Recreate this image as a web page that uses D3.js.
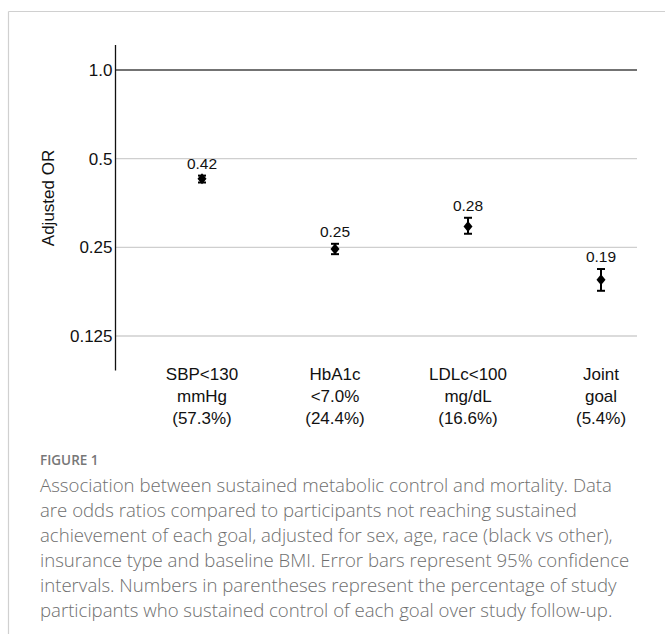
<!DOCTYPE html>
<html>
<head>
<meta charset="utf-8">
<script src="https://cdn.jsdelivr.net/npm/d3@7"></script>
<style>
  html, body { margin: 0; padding: 0; background: #fff; }
  svg { display: block; }
</style>
</head>
<body>
<svg id="chart" width="665" height="634"></svg>
<script>
// ---- data ----
const categories = ["SBP<130|mmHg|(57.3%)", "HbA1c|<7.0%|(24.4%)", "LDLc<100|mg/dL|(16.6%)", "Joint|goal|(5.4%)"];
const orValues   = [0.427, 0.247, 0.294, 0.194];
const ciLower    = [0.415, 0.237, 0.278, 0.178];
const ciUpper    = [0.438, 0.257, 0.315, 0.211];
const valueLabels = ["0.42", "0.25", "0.28", "0.19"];
const yTicks = [0.125, 0.25, 0.5, 1.0];
const yTickLabels = ["0.125", "0.25", "0.5", "1.0"];
const yAxisExtent = [0.0955, 1.215];
const yTitle = "Adjusted OR";
const figLabel = "FIGURE 1";
const captionLines = [
  "Association between sustained metabolic control and mortality. Data",
  "are odds ratios compared to participants not reaching sustained",
  "achievement of each goal, adjusted for sex, age, race (black vs other),",
  "insurance type and baseline BMI. Error bars represent 95% confidence",
  "intervals. Numbers in parentheses represent the percentage of study",
  "participants who sustained control of each goal over study follow-up."
];

const svg = d3.select("#chart");
const FONT = "Arial, 'Liberation Sans', Helvetica, sans-serif";

// frame
svg.append("line").attr("x1", 8.5).attr("x2", 665).attr("y1", 11.5).attr("y2", 11.5)
  .attr("stroke", "#d0d0d0").attr("stroke-width", 1.2);
svg.append("line").attr("x1", 8.5).attr("x2", 8.5).attr("y1", 11.5).attr("y2", 634)
  .attr("stroke", "#d0d0d0").attr("stroke-width", 1.2);

const axisX = 115.5, plotRight = 637;
const y = d3.scaleLog().base(2).domain([0.125, 1]).range([336, 70]);
const x = d3.scalePoint().domain(categories).range([202, 601]);

// gridlines
const g = svg.append("g");
g.selectAll("line.grid").data(yTicks).join("line")
  .attr("class", "grid")
  .attr("x1", axisX).attr("x2", plotRight)
  .attr("y1", d => y(d)).attr("y2", d => y(d))
  .attr("stroke", d => d === 1 ? "#444" : "#cfcfcf")
  .attr("stroke-width", d => d === 1 ? 1.6 : 1.4);

// y axis line
svg.append("line").attr("x1", axisX).attr("x2", axisX)
  .attr("y1", y(yAxisExtent[1])).attr("y2", y(yAxisExtent[0]))
  .attr("stroke", "#111").attr("stroke-width", 1.3);

// tick labels
svg.selectAll("text.tick").data(yTicks).join("text")
  .attr("class", "tick")
  .attr("x", axisX - 3).attr("y", (d) => y(d))
  .attr("dy", "0.35em")
  .attr("text-anchor", "end")
  .attr("font-family", FONT).attr("font-size", 17).attr("fill", "#111")
  .text((d, i) => yTickLabels[i]);

// y title
svg.append("text")
  .attr("transform", `translate(54, 198) rotate(-90)`)
  .attr("text-anchor", "middle")
  .attr("font-family", FONT).attr("font-size", 17).attr("fill", "#111")
  .text(yTitle);

// category labels
const cat = svg.selectAll("g.cat").data(categories).join("g").attr("class", "cat")
  .attr("transform", d => `translate(${x(d)}, 0)`);
cat.each(function(d) {
  const parts = d.split("|");
  d3.select(this).selectAll("text").data(parts).join("text")
    .attr("x", 0).attr("y", (p, i) => 380 + i * 22)
    .attr("text-anchor", "middle")
    .attr("font-family", FONT).attr("font-size", 17).attr("fill", "#111")
    .text(p => p);
});

// error bars + markers
const pts = svg.selectAll("g.pt").data(categories).join("g").attr("class", "pt")
  .attr("transform", d => `translate(${x(d)}, 0)`);
pts.append("line")
  .attr("x1", 0).attr("x2", 0)
  .attr("y1", (d, i) => y(ciUpper[i])).attr("y2", (d, i) => y(ciLower[i]))
  .attr("stroke", "#000").attr("stroke-width", 2);
pts.append("line")
  .attr("x1", -4).attr("x2", 4)
  .attr("y1", (d, i) => y(ciUpper[i])).attr("y2", (d, i) => y(ciUpper[i]))
  .attr("stroke", "#000").attr("stroke-width", 2);
pts.append("line")
  .attr("x1", -4).attr("x2", 4)
  .attr("y1", (d, i) => y(ciLower[i])).attr("y2", (d, i) => y(ciLower[i]))
  .attr("stroke", "#000").attr("stroke-width", 2);
pts.append("path")
  .attr("d", (d, i) => {
    const cy = y(orValues[i]);
    return `M0,${cy - 5.5} L4.5,${cy} L0,${cy + 5.5} L-4.5,${cy} Z`;
  })
  .attr("fill", "#000");
pts.append("text")
  .attr("x", 0)
  .attr("y", (d, i) => y(ciUpper[i]) - 7)
  .attr("text-anchor", "middle")
  .attr("font-family", FONT).attr("font-size", 15.5).attr("fill", "#111")
  .text((d, i) => valueLabels[i]);

// caption
svg.append("text")
  .attr("x", 40).attr("y", 465)
  .attr("font-family", "'Open Sans', sans-serif").attr("font-size", 13.5)
  .attr("font-weight", 600).attr("fill", "#777")
  .text(figLabel);
svg.selectAll("text.cap").data(captionLines).join("text")
  .attr("class", "cap")
  .attr("x", 40).attr("y", (d, i) => 492 + i * 25)
  .attr("font-family", "'Open Sans', sans-serif").attr("font-size", 18.6)
  .attr("font-weight", 300).attr("fill", "#6e6e6e")
  .text(d => d);
</script>
</body>
</html>
